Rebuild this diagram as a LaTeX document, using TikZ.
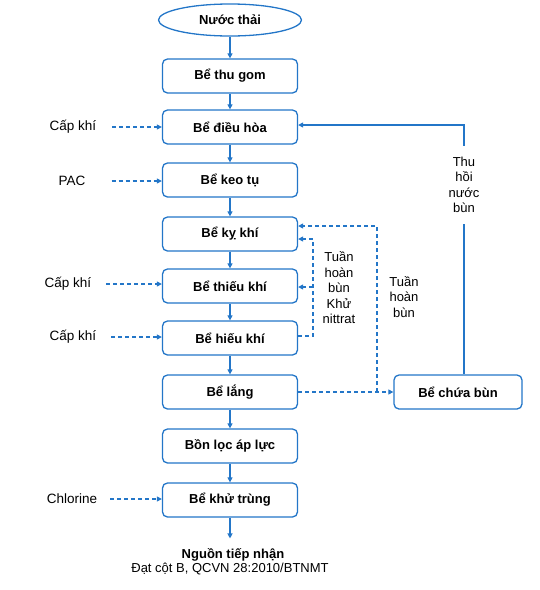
\documentclass[tikz,border=0pt]{standalone}
\usepackage{fontspec}
\setmainfont{Liberation Sans}
\usetikzlibrary{shapes.geometric,arrows.meta}
\definecolor{bl}{RGB}{35,118,200}
\begin{document}
\begin{tikzpicture}[x=1pt,y=-1pt,
  tank/.style={draw=bl, line width=1.3pt, rounded corners=5pt, minimum width=135pt, minimum height=34pt, font=\bfseries\fontsize{13}{15}\selectfont, fill=white},
  flow/.style={draw=bl, line width=1.2pt, -{Triangle[length=5pt,width=5pt]}},
  dflow/.style={flow, dash pattern=on 4pt off 3pt},
  plain/.style={draw=bl, line width=1.2pt},
  lbl/.style={font=\fontsize{13}{15.5}\selectfont, align=center, inner sep=0pt},
  side/.style={font=\fontsize{13.5}{16}\selectfont, inner sep=0pt},
]
\useasboundingbox (0,0) rectangle (540,590);

% main column
\node[ellipse, draw=bl, line width=1.3pt, minimum width=143pt, minimum height=32pt, font=\bfseries\fontsize{13}{15}\selectfont] (nt) at (230,20) {Nước thải};
\node[tank] (thugom) at (230,76) {Bể thu gom};
\node[tank] (dieuhoa) at (230,127) {Bể điều hòa};
\node[tank] (keotu) at (230,180) {Bể keo tụ};
\node[tank] (kykhi) at (230,234) {Bể kỵ khí};
\node[tank] (thieukhi) at (230,286) {Bể thiếu khí};
\node[tank] (hieukhi) at (230,338) {Bể hiếu khí};
\node[tank] (lang) at (230,392) {Bể lắng};
\node[tank] (loc) at (230,446) {Bồn lọc áp lực};
\node[tank] (khutrung) at (230,500) {Bể khử trùng};
\node[tank, minimum width=128pt] (chua) at (458,392) {Bể chứa bùn};

\node[font=\bfseries\fontsize{13}{15}\selectfont, inner sep=0pt] (dest) at (233,555) {Nguồn tiếp nhận};
\node[font=\fontsize{13}{15}\selectfont, inner sep=0pt] (std) at (230,569) {Đạt cột B, QCVN 28:2010/BTNMT};

\draw[flow] (nt) -- (thugom);
\draw[flow] (thugom) -- (dieuhoa);
\draw[flow] (dieuhoa) -- (keotu);
\draw[flow] (keotu) -- (kykhi);
\draw[flow] (kykhi) -- (thieukhi);
\draw[flow] (thieukhi) -- (hieukhi);
\draw[flow] (hieukhi) -- (lang);
\draw[flow] (lang) -- (loc);
\draw[flow] (loc) -- (khutrung);
\draw[flow, shorten >=10pt] (khutrung.south) -- (khutrung.south |- dest.north);

% left inputs
\node[side] (ck1) at (73,127) {Cấp khí};
\node[side] (pac) at (72,181) {PAC};
\node[side] (ck2) at (68,284) {Cấp khí};
\node[side] (ck3) at (73,337) {Cấp khí};
\node[side] (chl) at (72,499) {Chlorine};
\draw[dflow] ([xshift=16pt]ck1.east) -- (ck1.east -| dieuhoa.west);
\draw[dflow] ([xshift=26pt]pac.east) -- (pac.east -| keotu.west);
\draw[dflow] ([xshift=15pt]ck2.east) -- (ck2.east -| thieukhi.west);
\draw[dflow] ([xshift=15pt]ck3.east) -- (ck3.east -| hieukhi.west);
\draw[dflow] ([xshift=13pt]chl.east) -- (chl.east -| khutrung.west);

% sludge water return
\node[lbl, inner ysep=11pt] (thuhoi) at (464,185) {Thu\\hồi\\nước\\bùn};
\draw[plain] (thuhoi.south |- chua.north) -- (thuhoi.south);
\draw[flow] (thuhoi.north) |- ([yshift=2pt]dieuhoa.east);

% sludge recirculation
\coordinate (j) at (377,392);
\draw[dflow] (lang.east) -- (chua.west);
\draw[dflow] (j) |- ([yshift=8pt]kykhi.east);
\node[lbl] (thb) at (404,297) {Tuần\\hoàn\\bùn};

% nitrate recirculation
\coordinate (k) at (313,0);
\draw[dflow] ([yshift=2pt]hieukhi.east) -| ([yshift=-5pt]kykhi.east -| k) -- ([yshift=-5pt]kykhi.east);
\draw[dflow] ([yshift=-1pt]thieukhi.east -| k) -- ([yshift=-1pt]thieukhi.east);
\node[lbl] (khu) at (339,288) {Tuần\\hoàn\\bùn\\Khử\\nittrat};
\end{tikzpicture}
\end{document}
